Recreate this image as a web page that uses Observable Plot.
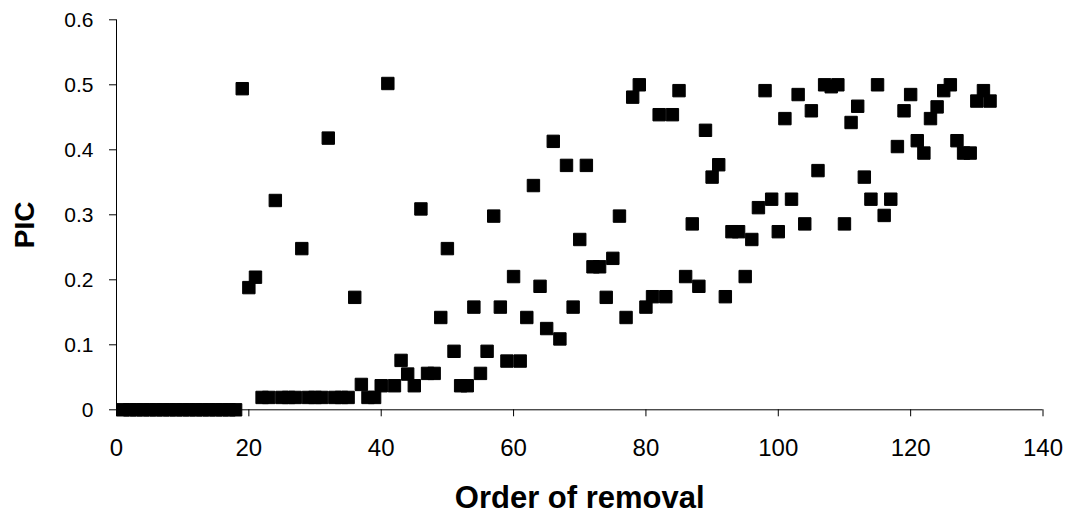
<!DOCTYPE html>
<html>
<head>
<meta charset="utf-8">
<script src="https://cdn.jsdelivr.net/npm/d3@7"></script>
<script src="https://cdn.jsdelivr.net/npm/@observablehq/plot@0.6"></script>
<style>
  html, body { margin: 0; padding: 0; background: #fff; }
  #chart svg { display: block; }
</style>
</head>
<body>
<div id="chart"></div>
<script>
// Order of removal (x) and PIC value (y) for each locus
const removalOrder = [
  1,2,3,4,5,6,7,8,9,10,11,12,13,14,15,16,17,18,19,20,
  21,22,23,24,25,26,27,28,29,30,31,32,33,34,35,36,37,38,39,40,
  41,42,43,44,45,46,47,48,49,50,51,52,53,54,55,56,57,58,59,60,
  61,62,63,64,65,66,67,68,69,70,71,72,73,74,75,76,77,78,79,80,
  81,82,83,84,85,86,87,88,89,90,91,92,93,94,95,96,97,98,99,100,
  101,102,103,104,105,106,107,108,109,110,111,112,113,114,115,116,117,118,119,120,
  121,122,123,124,125,126,127,128,129,130,131,132
];
const picValues = [
  0,0,0,0,0,0,0,0,0,0,0,0,0,0,0,0,0,0,0.494,0.188,
  0.204,0.019,0.019,0.322,0.019,0.019,0.019,0.248,0.019,0.019,0.019,0.418,0.019,0.019,0.019,0.173,0.039,0.019,0.019,0.037,
  0.502,0.037,0.076,0.055,0.037,0.309,0.056,0.056,0.142,0.248,0.090,0.037,0.037,0.158,0.056,0.090,0.298,0.158,0.075,0.205,
  0.075,0.142,0.345,0.190,0.125,0.413,0.109,0.376,0.158,0.262,0.376,0.220,0.220,0.173,0.233,0.298,0.142,0.481,0.500,0.158,
  0.174,0.454,0.174,0.454,0.491,0.205,0.286,0.190,0.430,0.358,0.377,0.174,0.274,0.274,0.205,0.262,0.311,0.491,0.324,0.274,
  0.448,0.324,0.485,0.286,0.460,0.368,0.500,0.497,0.500,0.286,0.442,0.467,0.358,0.324,0.500,0.299,0.324,0.405,0.460,0.485,
  0.414,0.395,0.448,0.466,0.491,0.500,0.414,0.395,0.395,0.475,0.491,0.475
];
const xTicks = [0, 20, 40, 60, 80, 100, 120, 140];
const yTicks = [0, 0.1, 0.2, 0.3, 0.4, 0.5, 0.6];
const xTitle = "Order of removal";
const yTitle = "PIC";

const data = removalOrder.map((o, i) => ({order: o, pic: picValues[i]}));

const chart = Plot.plot({
  width: 1069,
  height: 517,
  marginLeft: 116,
  marginRight: 26.5,
  marginTop: 19.3,
  marginBottom: 107.7,
  x: {domain: [0, 140], label: null},
  y: {domain: [0, 0.6], label: null},
  style: {fontFamily: "'Liberation Sans', Arial, sans-serif", color: "#000", background: "#fff", overflow: "visible"},
  marks: [
    Plot.ruleX([0], {stroke: "#000", strokeWidth: 1}),
    Plot.ruleY([0], {stroke: "#000", strokeWidth: 1}),
    Plot.axisX({ticks: xTicks, tickSize: 7, tickPadding: 22, fontSize: 24, label: null, tickFormat: d => String(d)}),
    Plot.axisY({ticks: yTicks, tickSize: 7, tickPadding: 16, fontSize: 21, label: null, tickFormat: d => d === 0 ? "0" : d.toFixed(1)}),
    Plot.dot(data, {x: "order", y: "pic", symbol: "square", r: 7, fill: "#000", stroke: "#000", strokeWidth: 1, strokeLinejoin: "round"}),
    Plot.text([xTitle], {frameAnchor: "bottom", textAnchor: "middle", lineAnchor: "middle", dy: 88, fontSize: 31, fontWeight: "bold", fill: "#000"}),
    Plot.text([yTitle], {frameAnchor: "left", textAnchor: "middle", lineAnchor: "middle", rotate: -90, dx: -91, dy: 10, fontSize: 28, fontWeight: "bold", fill: "#000"})
  ]
});
document.getElementById("chart").appendChild(chart);
</script>
</body>
</html>
